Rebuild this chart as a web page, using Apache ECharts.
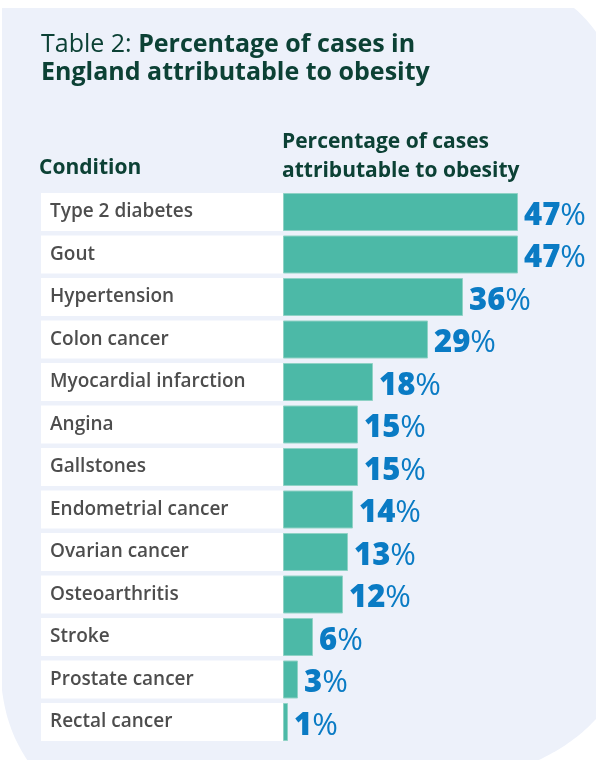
<!DOCTYPE html>
<html>
<head>
<meta charset="utf-8">
<script src="https://cdn.jsdelivr.net/npm/echarts@6/dist/echarts.min.js"></script>
<style>
  html, body { margin: 0; padding: 0; background: #ffffff; }
  #chart { width: 596px; height: 760px; }
</style>
</head>
<body>
<div id="chart"></div>
<script>
// Conditions (top to bottom) and share of cases attributable to obesity (%)
const conditions = [
  'Type 2 diabetes', 'Gout', 'Hypertension', 'Colon cancer',
  'Myocardial infarction', 'Angina', 'Gallstones', 'Endometrial cancer',
  'Ovarian cancer', 'Osteoarthritis', 'Stroke', 'Prostate cancer', 'Rectal cancer'
];
const percentAttributable = [47, 47, 36, 29, 18, 15, 15, 14, 13, 12, 6, 3, 1];

const titleLead = 'Table 2: ';
const titleLines = ['Percentage of cases in', 'England attributable to obesity'];
const conditionHeader = 'Condition';
const valueHeader = ['Percentage of cases', 'attributable to obesity'];

const FONT = '"Open Sans", "Noto Sans", sans-serif';
const DARK_GREEN = '#0c4135';
const BLUE = '#0a7bc4';

// Outline of the rounded background panel, sampled from cubic curves
function panelOutline() {
  const pts = [];
  function cubic(p0, p1, p2, p3, steps) {
    for (let i = 0; i <= steps; i++) {
      const t = i / steps, u = 1 - t;
      pts.push([
        u * u * u * p0[0] + 3 * u * u * t * p1[0] + 3 * u * t * t * p2[0] + t * t * t * p3[0],
        u * u * u * p0[1] + 3 * u * u * t * p1[1] + 3 * u * t * t * p2[1] + t * t * t * p3[1]
      ]);
    }
  }
  pts.push([2, 8]);
  cubic([574, 8], [584, 16], [592, 26], [602, 40], 16);
  cubic([602, 712], [584, 734], [562, 750], [530, 764], 24);
  cubic([30, 764], [16, 744], [6, 722], [2, 690], 24);
  return pts;
}

const chart = echarts.init(document.getElementById('chart'), null, { renderer: 'canvas' });

chart.setOption({
  animation: false,
  backgroundColor: '#ffffff',
  title: {
    left: 36,
    top: 26,
    text: '{a|' + titleLead + '}{b|' + titleLines[0] + '}\n{b|' + titleLines[1] + '}',
    textStyle: {
      rich: {
        a: { fontFamily: FONT, fontSize: 25, fontWeight: 400, color: DARK_GREEN, lineHeight: 28 },
        b: { fontFamily: FONT, fontSize: 25, fontWeight: 700, color: DARK_GREEN, lineHeight: 28 }
      }
    }
  },
  graphic: [
    {
      type: 'polygon',
      z: -10,
      silent: true,
      shape: { points: panelOutline() },
      style: { fill: '#edf1fa' }
    },
    {
      type: 'text',
      left: 39,
      top: 158,
      style: {
        text: conditionHeader,
        font: '700 21px ' + FONT,
        fill: DARK_GREEN
      }
    },
    {
      type: 'text',
      left: 282,
      top: 128,
      style: {
        text: valueHeader.join('\n'),
        font: '700 21px ' + FONT,
        lineHeight: 29,
        fill: DARK_GREEN
      }
    }
  ],
  grid: {
    left: 283,
    width: 300,
    top: 190.75,
    height: 552.5,
    containLabel: false
  },
  xAxis: {
    type: 'value',
    min: 0,
    max: 60,
    show: false
  },
  yAxis: {
    type: 'category',
    inverse: true,
    data: conditions,
    axisLine: { show: false },
    axisTick: { show: false },
    splitLine: { show: false },
    axisLabel: {
      align: 'left',
      margin: 242,
      fontFamily: FONT,
      fontSize: 19,
      fontWeight: 600,
      color: '#4d4d4d',
      backgroundColor: '#ffffff',
      width: 233,
      height: 34,
      lineHeight: 34,
      padding: [4, 0, 0, 9]
    }
  },
  series: [
    {
      type: 'bar',
      data: percentAttributable,
      barCategoryGap: '10.6%',
      itemStyle: {
        color: '#4cb9a7',
        borderColor: '#8fd2c5',
        borderWidth: 1
      },
      label: {
        show: true,
        position: 'right',
        distance: 6,
        offset: [0, 4],
        formatter: p => '{n|' + p.value + '}{p|%}',
        rich: {
          n: { fontFamily: FONT, fontSize: 31, fontWeight: 800, color: BLUE },
          p: { fontFamily: FONT, fontSize: 31, fontWeight: 500, color: BLUE }
        }
      }
    }
  ]
});
</script>
</body>
</html>
